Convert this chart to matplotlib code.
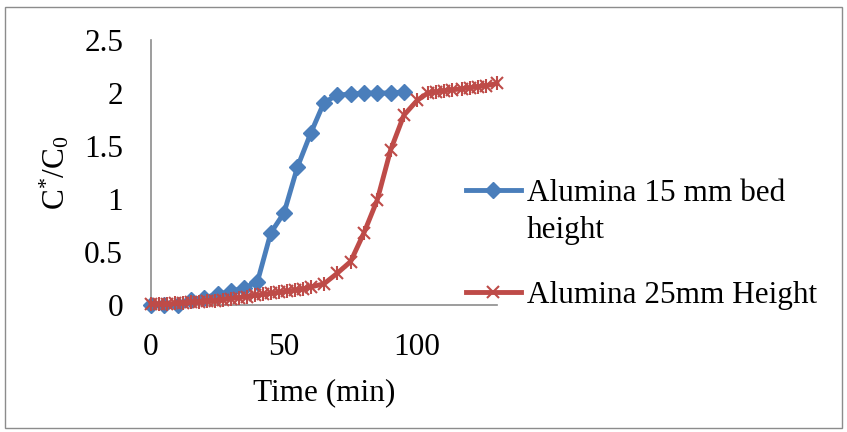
import matplotlib
matplotlib.use('Agg')
import matplotlib.pyplot as plt
from matplotlib.patches import Rectangle

# blue series: 15 mm bed height
t_15mm = [0, 5, 10, 15, 20, 25, 30, 35, 40, 45, 50, 55, 60, 65, 70, 75, 80, 85, 90, 95]
c_15mm = [0, 0, 0, 0.05, 0.07, 0.10, 0.13, 0.16, 0.22, 0.68, 0.87, 1.30, 1.62, 1.91,
          1.98, 1.99, 2.0, 2.0, 2.0, 2.01]

# red series: 25 mm height
t_25mm = [0, 3, 6, 9, 12, 15, 18, 21, 24, 27, 30, 33, 36, 39, 42, 45, 48, 51, 54, 57, 60,
          65, 70, 75, 80, 85, 90, 95, 100, 104, 107, 110, 113, 117, 120, 123, 126, 130]
c_25mm = [0.01, 0.01, 0.01, 0.015, 0.02, 0.025, 0.03, 0.035, 0.04, 0.05, 0.06, 0.07, 0.08,
          0.09, 0.10, 0.11, 0.12, 0.13, 0.14, 0.15, 0.17,
          0.20, 0.30, 0.41, 0.68, 0.99, 1.46, 1.79, 1.93, 2.0, 2.01, 2.02, 2.03, 2.04,
          2.05, 2.06, 2.07, 2.09]

x_ticks = [0, 50, 100]
y_ticks = [0, 0.5, 1, 1.5, 2, 2.5]
y_tick_labels = ['0', '0.5', '1', '1.5', '2', '2.5']

blue = '#4A7EBB'
red = '#BE4B48'
fs = 22.5

plt.rcParams['font.family'] = ['Liberation Serif', 'DejaVu Serif']
plt.rcParams['mathtext.fontset'] = 'custom'
plt.rcParams['mathtext.rm'] = 'Liberation Serif'

fig = plt.figure(figsize=(8.47, 4.32), dpi=100)
fig.patches.append(Rectangle((5 / 847, 4 / 432), 837 / 847, 421 / 432, transform=fig.transFigure,
                             fill=False, edgecolor='#8c8c8c', linewidth=1))
ax = fig.add_axes([151 / 847, 1 - 305 / 432, 346 / 847, 265 / 432])

ax.plot(t_15mm, c_15mm, color=blue, lw=3.5, marker='D', ms=8, mec=blue, mfc=blue,
        label='Alumina 15 mm bed\nheight', clip_on=False, zorder=3)
ax.plot(t_25mm, c_25mm, color=red, lw=3.5, marker='x', ms=8.5, mew=1.5, mec=red,
        label='Alumina 25mm Height', clip_on=False, zorder=4)
ax.plot(t_25mm, c_25mm, ls='none', marker='|', ms=10, mew=1.5, mec=red, clip_on=False, zorder=4)

ax.set_xlim(0, 130)
ax.set_ylim(0, 2.5)
ax.set_xticks(x_ticks)
ax.set_yticks(y_ticks)
ax.set_yticklabels(y_tick_labels)
ax.tick_params(length=0, labelsize=fs)
ax.tick_params(axis='x', pad=20)
ax.tick_params(axis='y', pad=20)

for s in ['top', 'right']:
    ax.spines[s].set_visible(False)
for s in ['left', 'bottom']:
    ax.spines[s].set_color('#8c8c8c')
    ax.spines[s].set_linewidth(1.2)

ax.set_xlabel('Time (min)', fontsize=fs, labelpad=12)
ax.set_ylabel(r'$\mathregular{C^{*}/C_{0}}$', fontsize=fs, labelpad=9)

leg = ax.legend(loc='upper left', bbox_to_anchor=(466 / 847, 1 - 179 / 432),
                bbox_transform=fig.transFigure, frameon=False, fontsize=fs,
                handlelength=1.75, handletextpad=0.2, labelspacing=1.15, borderpad=0,
                borderaxespad=0)
for txt in leg.get_texts():
    txt.set_linespacing(1.35)
# handle next to the first line of a wrapped label, like the original
for col in leg._legend_handle_box.get_children():
    for row in col.get_children():
        row.align = 'top'

fig.savefig('out.png', dpi=100)
